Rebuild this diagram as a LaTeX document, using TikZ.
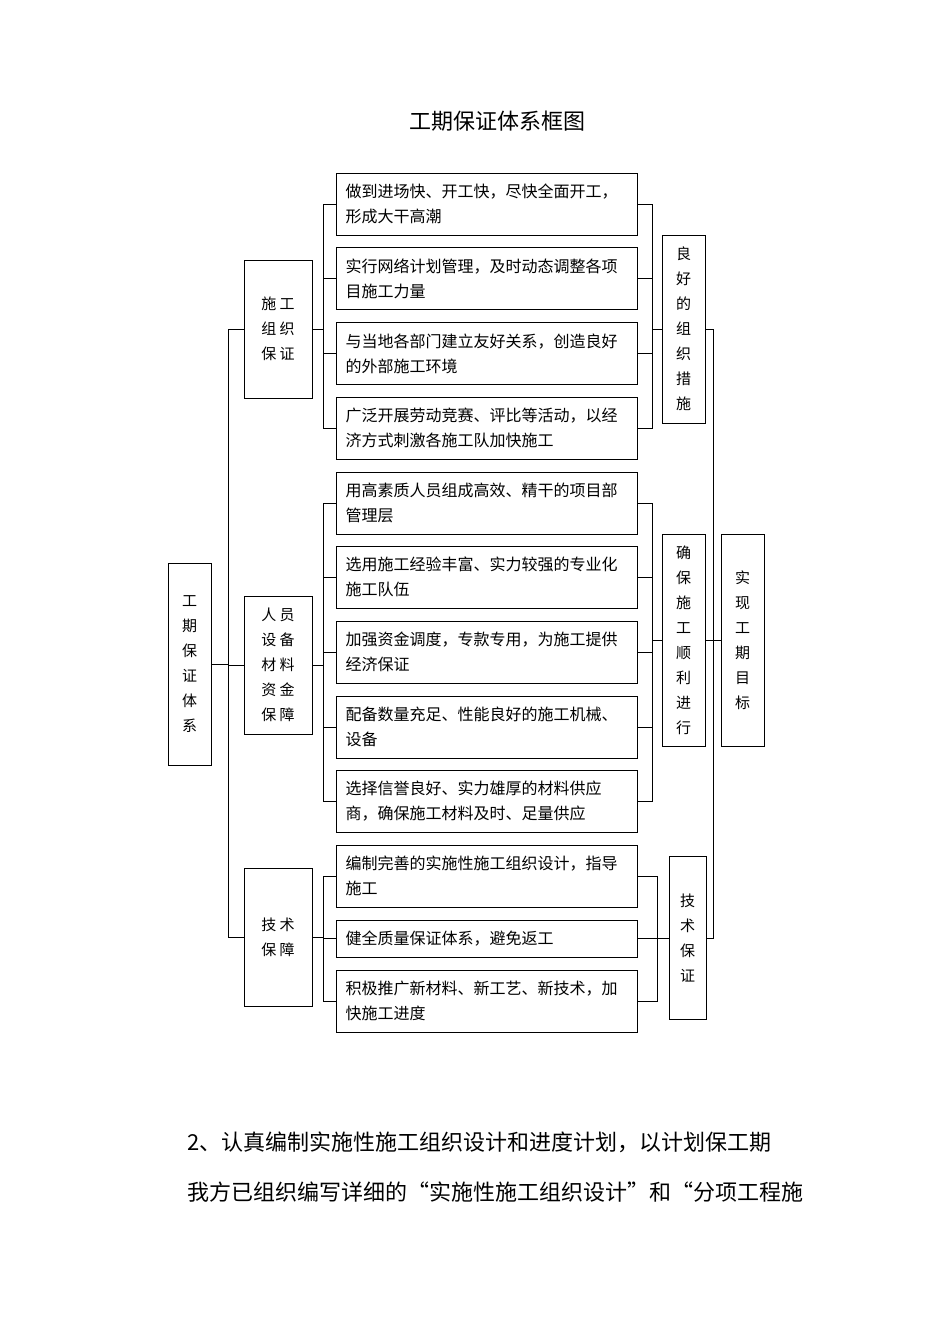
\documentclass[tikz,border=0pt]{standalone}
\usepackage{fontspec}
\setmainfont{Noto Sans CJK SC}
\usetikzlibrary{positioning}
\tikzset{
    box/.style={draw, thick, inner sep=0pt, align=center, font=\fontsize{15}{25}\selectfont},
    item/.style={draw, thick, minimum width=301pt, minimum height=62pt, inner sep=0pt, text width=282pt, align=left, font=\fontsize{16}{25}\selectfont},
    conn/.style={line width=1pt}
}
\begin{document}
\begin{tikzpicture}[x=1pt, y=-1pt]
    \useasboundingbox (0,0) rectangle (950,1344);
    \node[font=\fontsize{22}{24}\selectfont] (title) at (497,121) {工期保证体系框图};

    % left side
    \node[box, minimum width=43pt, minimum height=202pt] (root) at (189.5,664) {工\\期\\保\\证\\体\\系};
    \node[box, minimum width=68pt, minimum height=138pt] (g1) at (278,329) {施 工\\组 织\\保 证};
    \node[box, minimum width=68pt, minimum height=138pt] (g2) at (278,665) {人 员\\设 备\\材 料\\资 金\\保 障};
    \node[box, minimum width=68pt, minimum height=138pt] (g3) at (278,937) {技 术\\保 障};

    % items
    \node[item] (c1) at (486.5,204) {做到进场快、开工快，尽快全面开工，\\形成大干高潮};
    \node[item] (c2) at (486.5,278.5) {实行网络计划管理，及时动态调整各项\\目施工力量};
    \node[item] (c3) at (486.5,353.5) {与当地各部门建立友好关系，创造良好\\的外部施工环境};
    \node[item] (c4) at (486.5,428) {广泛开展劳动竞赛、评比等活动，以经\\济方式刺激各施工队加快施工};
    \node[item] (c5) at (486.5,503) {用高素质人员组成高效、精干的项目部\\管理层};
    \node[item] (c6) at (486.5,577) {选用施工经验丰富、实力较强的专业化\\施工队伍};
    \node[item] (c7) at (486.5,652) {加强资金调度，专款专用，为施工提供\\经济保证};
    \node[item] (c8) at (486.5,727) {配备数量充足、性能良好的施工机械、\\设备};
    \node[item] (c9) at (486.5,801) {选择信誉良好、实力雄厚的材料供应\\商，确保施工材料及时、足量供应};
    \node[item] (c10) at (486.5,876) {编制完善的实施性施工组织设计，指导\\施工};
    \node[item, minimum height=37pt] (c11) at (486.5,938.5) {健全质量保证体系，避免返工};
    \node[item] (c12) at (486.5,1001) {积极推广新材料、新工艺、新技术，加\\快施工进度};

    % right side
    \node[box, minimum width=43pt, minimum height=188pt] (r1) at (683.5,329) {良\\好\\的\\组\\织\\措\\施};
    \node[box, minimum width=43pt, minimum height=212pt] (r2) at (683.5,640) {确\\保\\施\\工\\顺\\利\\进\\行};
    \node[box, minimum width=37pt, minimum height=163pt] (r3) at (687.5,938) {技\\术\\保\\证};
    \node[box, minimum width=43pt, minimum height=212pt] (goal) at (742.5,640) {实\\现\\工\\期\\目\\标};

    % connectors
    \coordinate (lt) at (228,664);
    \draw[conn] (root.east) -- (lt);
    \foreach \g in {g1,g2,g3} \draw[conn] (lt) |- (\g.west);
    \coordinate (b1) at (323,329);
    \coordinate (b2) at (323,665);
    \coordinate (b3) at (323,937);
    \draw[conn] (g1.east) -- (b1);
    \draw[conn] (g2.east) -- (b2);
    \draw[conn] (g3.east) -- (b3);
    \foreach \c in {c1,c2,c3,c4} \draw[conn] (b1) |- (\c.west);
    \foreach \c in {c5,c6,c7,c8,c9} \draw[conn] (b2) |- (\c.west);
    \foreach \c in {c10,c11,c12} \draw[conn] (b3) |- (\c.west);

    \coordinate (e1) at (652,329);
    \coordinate (e2) at (652,640);
    \coordinate (e3) at (657,938);
    \draw[conn] (e1) -- (r1.west);
    \draw[conn] (e2) -- (r2.west);
    \draw[conn] (e3) -- (r3.west);
    \foreach \c in {c1,c2,c3,c4} \draw[conn] (\c.east) -| (e1);
    \foreach \c in {c5,c6,c7,c8,c9} \draw[conn] (\c.east) -| (e2);
    \foreach \c in {c10,c11,c12} \draw[conn] (\c.east) -| (e3);

    \coordinate (rt) at (713,640);
    \draw[conn] (r1.east) -| (rt);
    \draw[conn] (r3.east) -| (rt);
    \draw[conn] (r2.east) -- (goal.west);

    % text below
    \node[anchor=west, font=\fontsize{22}{24}\selectfont] (p1) at (184,1142) {2、认真编制实施性施工组织设计和进度计划，以计划保工期};
    \node[anchor=west, font=\fontsize{22}{24}\selectfont] (p2) at (184,1192) {我方已组织编写详细的“实施性施工组织设计”和“分项工程施};
\end{tikzpicture}
\end{document}
